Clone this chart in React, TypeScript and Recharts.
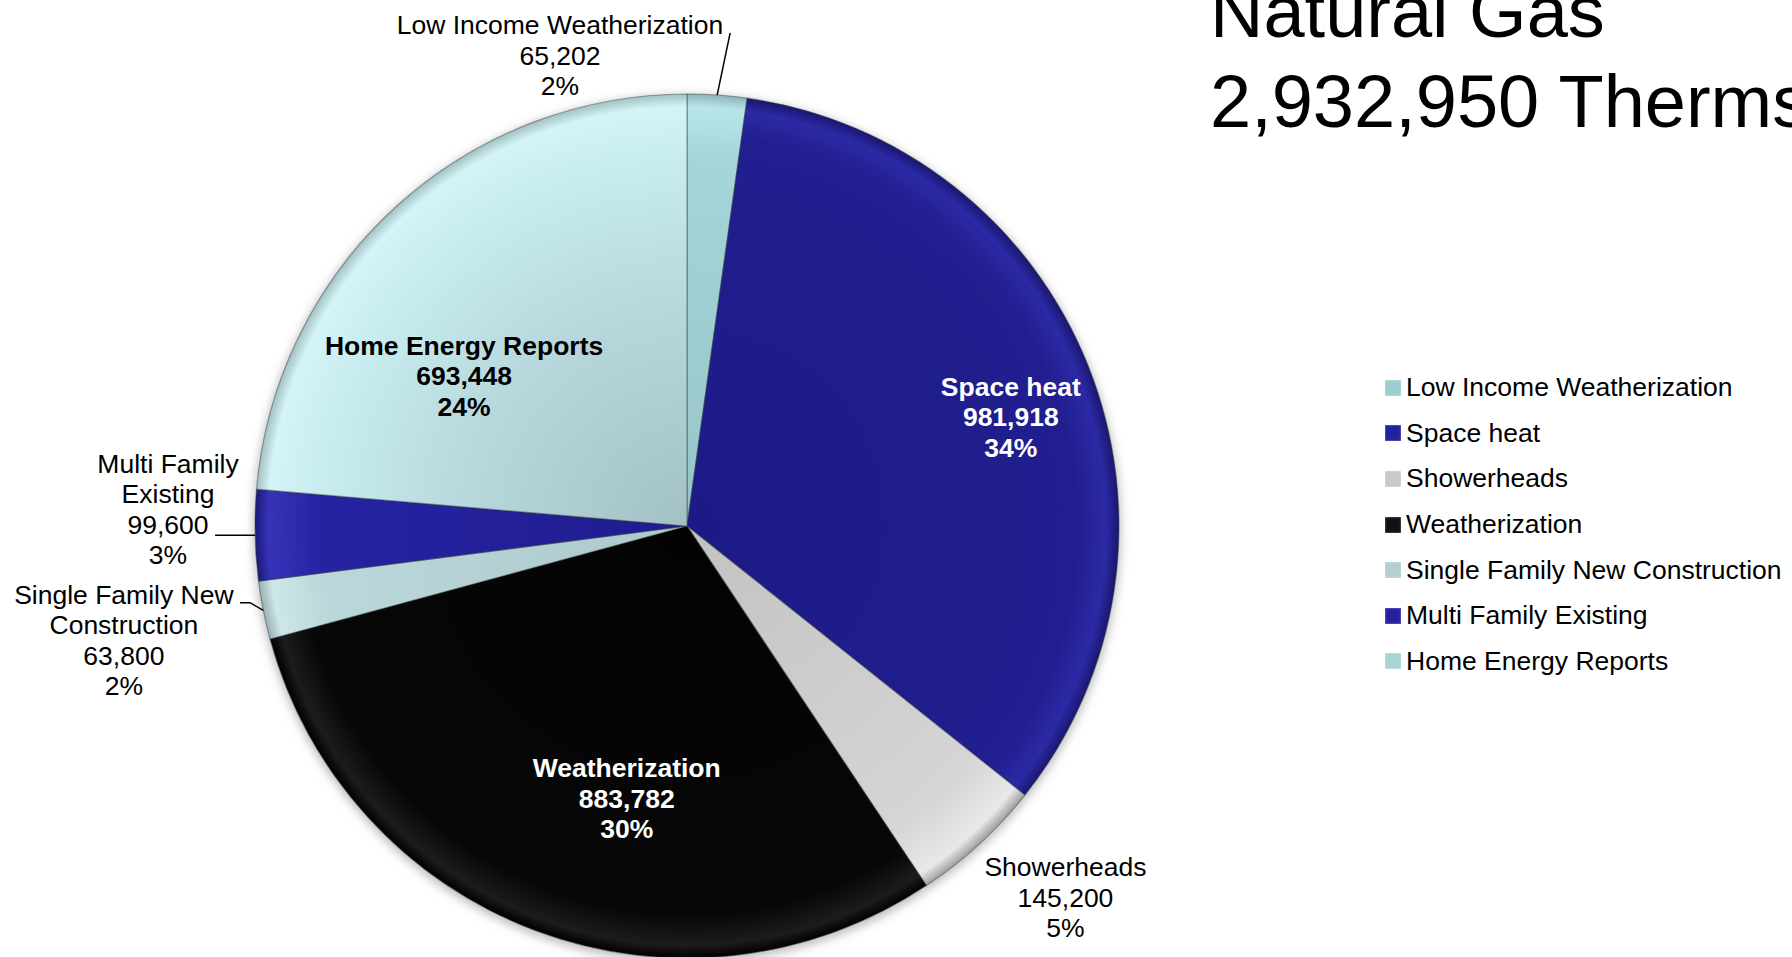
import { PieChart, Pie, Cell, Legend } from 'recharts';

// ---- data ----
const categories = [
  'Low Income Weatherization',
  'Space heat',
  'Showerheads',
  'Weatherization',
  'Single Family New Construction',
  'Multi Family Existing',
  'Home Energy Reports',
];
const therms = [65202, 981918, 145200, 883782, 63800, 99600, 693448];
// percentages as printed on the slide (they are rounded to add up to 100)
const shareLabels = [2, 34, 5, 30, 2, 3, 24];
const titleLines = ['Natural Gas', '2,932,950 Therms'];

const data = categories.map((name, i) => ({ name, value: therms[i] }));

// ---- look ----
const W = 1792;
const H = 957;
const CX = 687;
const CY = 526;
const R = 432;
const FONT = '"Liberation Sans", Arial, Helvetica, sans-serif';
const FS = 26.5;
const LINE = 30.5;

// radial gradient stops: [offset, colour]
const sliceStops: Record<string, [number, string][]> = {
  'Low Income Weatherization': [[0, '#97c4c9'], [0.85, '#a5d5d9'], [0.97, '#b8e5e8'], [1, '#8cb5b9']],
  'Space heat': [[0, '#1c1a86'], [0.9, '#211e8f'], [0.97, '#2c29a6'], [1, '#19176e']],
  Showerheads: [[0, '#c2c2c2'], [0.85, '#d5d5d5'], [0.97, '#e8e8e8'], [1, '#9e9e9e']],
  Weatherization: [[0, '#030303'], [0.9, '#070707'], [0.97, '#1c1c1c'], [1, '#000000']],
  'Single Family New Construction': [[0, '#adc9cc'], [0.85, '#bad7d9'], [0.97, '#cde7e8'], [1, '#98b2b5']],
  'Multi Family Existing': [[0, '#1f1c90'], [0.85, '#2623a2'], [0.97, '#3633b8'], [1, '#1a1878']],
  'Home Energy Reports': [[0, '#a3c1c5'], [0.5, '#b6d7db'], [0.85, '#c8ecef'], [0.97, '#d4f4f6'], [1, '#a1c1c4']],
};

const swatch: Record<string, string> = {
  'Low Income Weatherization': '#9ccdd2',
  'Space heat': '#24219c',
  Showerheads: '#c9c9c9',
  Weatherization: '#111111',
  'Single Family New Construction': '#b3cfd2',
  'Multi Family Existing': '#2522a0',
  'Home Energy Reports': '#a8d3d8',
};

// label placement relative to each slice's mid angle (degrees clockwise, radius as share of R)
type Place = {
  shift: number;
  dist: number;
  bold?: boolean;
  color?: string;
  wrap?: number;
  leader?: { to: number; shift: number; hook: number };
};
const placement: Record<string, Place> = {
  'Low Income Weatherization': { shift: -19.1, dist: 1.129, leader: { to: 1.146, shift: 1, hook: 0 } },
  'Space heat': { shift: 3.1, dist: 0.791, bold: true, color: '#ffffff' },
  Showerheads: { shift: -3, dist: 1.227 },
  Weatherization: { shift: -8.1, dist: 0.645, bold: true, color: '#ffffff' },
  'Single Family New Construction': {
    shift: -0.2,
    dist: 1.33,
    wrap: 17,
    leader: { to: 1.027, shift: 1.3, hook: -10 },
  },
  'Multi Family Existing': { shift: 3.1, dist: 1.202, wrap: 17, leader: { to: 1.0, shift: 0, hook: -40 } },
  'Home Energy Reports': { shift: -13.5, dist: 0.622, bold: true },
};

const RAD = Math.PI / 180;
const polar = (cx: number, cy: number, r: number, deg: number) => [
  cx + r * Math.sin(deg * RAD),
  cy - r * Math.cos(deg * RAD),
];

const wrapName = (name: string, max?: number) => {
  if (!max) return [name];
  const out: string[] = [];
  let cur = '';
  name.split(' ').forEach((w) => {
    const next = cur ? `${cur} ${w}` : w;
    if (next.length > max && cur) {
      out.push(cur);
      cur = w;
    } else cur = next;
  });
  if (cur) out.push(cur);
  return out;
};

const gradId = (i: number) => `slice-grad-${i}`;

function SliceLabel(props: any) {
  const { cx, cy, outerRadius, midAngle } = props;
  const name: string = props.payload?.name ?? props.name;
  const i = categories.indexOf(name);
  const p = placement[name];
  if (!p || i < 0) return null;
  const clock = 90 - midAngle;
  const [tx, ty] = polar(cx, cy, outerRadius * p.dist, clock + p.shift);
  const lines = [...wrapName(name, p.wrap), therms[i].toLocaleString('en-US'), `${shareLabels[i]}%`];
  const top = ty - ((lines.length - 1) * LINE) / 2;

  let leader = null;
  if (p.leader) {
    const [x0, y0] = polar(cx, cy, outerRadius, clock);
    const [x1, y1] = polar(cx, cy, outerRadius * p.leader.to, clock + p.leader.shift);
    leader = (
      <polyline
        points={`${x0},${y0} ${x1},${y1} ${x1 + p.leader.hook},${y1}`}
        fill="none"
        stroke="#000"
        strokeWidth={1.5}
      />
    );
  }

  return (
    <g>
      {leader}
      <text
        textAnchor="middle"
        fontFamily={FONT}
        fontSize={FS}
        fontWeight={p.bold ? 700 : 400}
        fill={p.color ?? '#000'}
      >
        {lines.map((l, k) => (
          <tspan key={k} x={tx} y={top + k * LINE + 9.5}>
            {l}
          </tspan>
        ))}
      </text>
    </g>
  );
}

function LegendList(props: any) {
  // keep the slice order (the legend sorts by name otherwise)
  const items = (props.payload ?? [])
    .filter((e: any) => e.type !== 'none')
    .slice()
    .sort((a: any, b: any) => categories.indexOf(a.value) - categories.indexOf(b.value));
  return (
    <ul style={{ listStyle: 'none', margin: 0, padding: 0 }}>
      {items.map((e: any) => (
        <li key={e.value} style={{ display: 'flex', alignItems: 'center', height: 45.6 }}>
          <span
            style={{
              display: 'inline-block',
              width: 16,
              height: 16,
              marginRight: 5,
              background: swatch[e.value],
              boxShadow: 'inset 0 0 2px rgba(255,255,255,0.6)',
            }}
          />
          <span style={{ fontFamily: FONT, fontSize: FS, color: '#000', whiteSpace: 'nowrap' }}>{e.value}</span>
        </li>
      ))}
    </ul>
  );
}

export default function App() {
  return (
    <div
      style={{
        position: 'absolute',
        left: 0,
        top: 0,
        width: W,
        height: H,
        overflow: 'hidden',
        background: '#fff',
      }}
    >
      <svg width={0} height={0} style={{ position: 'absolute' }}>
        <defs>
          {categories.map((name, i) => (
            <radialGradient key={name} id={gradId(i)} gradientUnits="userSpaceOnUse" cx={CX} cy={CY} r={R}>
              {sliceStops[name].map(([o, c]) => (
                <stop key={o} offset={o} stopColor={c} />
              ))}
            </radialGradient>
          ))}
          <filter id="pie-blur" x="-20%" y="-20%" width="140%" height="140%">
            <feGaussianBlur stdDeviation={5} />
          </filter>
        </defs>
      </svg>

      <PieChart width={W} height={H} margin={{ top: 0, right: 0, bottom: 0, left: 0 }}>
        {/* soft halo under the pie */}
        <Pie
          data={data}
          dataKey="value"
          nameKey="name"
          cx={CX}
          cy={CY + 3}
          outerRadius={R + 2}
          startAngle={90}
          endAngle={-270}
          stroke="none"
          legendType="none"
          isAnimationActive={false}
        >
          {data.map((d) => (
            <Cell key={d.name} fill="#8a8a8a" fillOpacity={0.55} filter="url(#pie-blur)" />
          ))}
        </Pie>
        <Pie
          data={data}
          dataKey="value"
          nameKey="name"
          cx={CX}
          cy={CY}
          outerRadius={R}
          startAngle={90}
          endAngle={-270}
          label={SliceLabel}
          labelLine={false}
          isAnimationActive={false}
        >
          {data.map((d, i) => (
            <Cell key={d.name} fill={`url(#${gradId(i)})`} stroke="rgba(50,60,62,0.45)" strokeWidth={1.2} />
          ))}
        </Pie>
        <Legend
          layout="vertical"
          align="right"
          verticalAlign="top"
          itemSorter={null as any}
          content={LegendList}
          wrapperStyle={{ left: 1385, top: 365, width: 420 }}
        />
      </PieChart>

      <svg width={W} height={H} style={{ position: 'absolute', left: 0, top: 0, pointerEvents: 'none' }}>
        <text fontFamily={FONT} fontSize={74} fill="#000">
          {titleLines.map((t, k) => (
            <tspan key={t} x={1210} y={37 + k * 90}>
              {t}
            </tspan>
          ))}
        </text>
      </svg>
    </div>
  );
}
